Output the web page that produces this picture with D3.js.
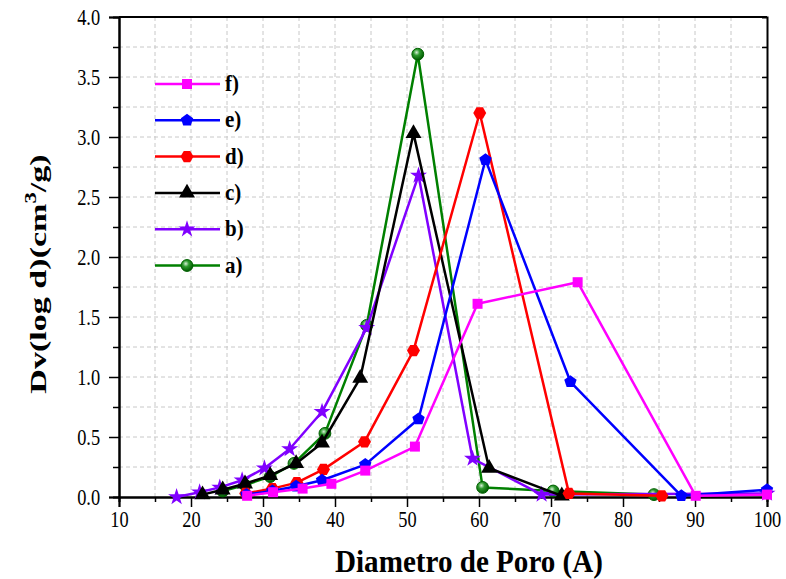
<!DOCTYPE html>
<html>
<head>
<meta charset="utf-8">
<script src="https://cdn.jsdelivr.net/npm/d3@7"></script>
<style>
  body { margin: 0; background: #fff; }
  text { font-family: "Liberation Serif", "Times New Roman", serif; }
</style>
</head>
<body>
<div id="chart"></div>
<script>
// Pore size distribution data
// ================================
var xA = [24.4, 27.5, 31.0, 34.3, 38.6, 44.4, 51.5, 60.5, 70.3, 84.3];
var yA = [0.05, 0.10, 0.17, 0.28, 0.53, 1.43, 3.69, 0.08, 0.05, 0.02];

var xB = [18.0, 21.2, 24.0, 27.1, 30.2, 33.7, 38.2, 44.4, 51.6, 59.1, 68.7, 100];
var yB = [0.00, 0.04, 0.08, 0.14, 0.24, 0.40, 0.71, 1.41, 2.68, 0.32, 0.02, 0.03];

var xC = [21.6, 24.4, 27.5, 31.0, 34.6, 38.2, 43.5, 50.9, 61.4, 71.5];
var yC = [0.02, 0.06, 0.11, 0.18, 0.28, 0.45, 0.99, 3.03, 0.24, 0.01];

var xD = [27.6, 31.3, 34.7, 38.4, 44.1, 50.9, 60.1, 72.5, 85.4];
var yD = [0.03, 0.07, 0.12, 0.23, 0.46, 1.22, 3.20, 0.03, 0.01];

var xE = [27.7, 31.3, 34.6, 38.2, 44.2, 51.6, 60.9, 72.7, 88.1, 100];
var yE = [0.02, 0.05, 0.09, 0.14, 0.27, 0.65, 2.81, 0.96, 0.01, 0.06];

var xF = [27.8, 31.4, 35.5, 39.5, 44.2, 51.1, 59.8, 73.7, 90.1, 100];
var yF = [0.01, 0.04, 0.07, 0.11, 0.22, 0.42, 1.61, 1.79, 0.01, 0.02];

var xTicks = [10, 20, 30, 40, 50, 60, 70, 80, 90, 100];
var yTicks = [0.0, 0.5, 1.0, 1.5, 2.0, 2.5, 3.0, 3.5, 4.0];

var series = [
  { name: "a)", xs: xA, ys: yA, color: "#008000", shape: "sphere" },
  { name: "b)", xs: xB, ys: yB, color: "#8000ff", shape: "star" },
  { name: "c)", xs: xC, ys: yC, color: "#000000", shape: "triangle" },
  { name: "d)", xs: xD, ys: yD, color: "#ff0000", shape: "hexagon" },
  { name: "e)", xs: xE, ys: yE, color: "#0000ff", shape: "pentagon" },
  { name: "f)", xs: xF, ys: yF, color: "#ff00ff", shape: "square" }
];

// Set up our chart
// ================================
var svgWidth = 786;
var svgHeight = 579;

var margin = { top: 17, right: 19, bottom: 82, left: 119 };
var width = svgWidth - margin.left - margin.right;
var height = svgHeight - margin.top - margin.bottom;

var serif = '"Liberation Serif", "Times New Roman", serif';

var svg = d3.select("#chart")
  .append("svg")
  .attr("width", svgWidth)
  .attr("height", svgHeight);

var defs = svg.append("defs");
var grad = defs.append("radialGradient")
  .attr("id", "sphere")
  .attr("cx", "40%").attr("cy", "35%").attr("r", "65%");
grad.append("stop").attr("offset", "0%").attr("stop-color", "#d8f0d8");
grad.append("stop").attr("offset", "40%").attr("stop-color", "#2e9a2e");
grad.append("stop").attr("offset", "100%").attr("stop-color", "#005a00");

var chartGroup = svg.append("g")
  .attr("transform", `translate(${margin.left}, ${margin.top})`);

var xScale = d3.scaleLinear().domain([10, 100]).range([0, width]);
var yScale = d3.scaleLinear().domain([0, 4]).range([height, 0]);

// Grid lines
// ================================
chartGroup.append("g")
  .selectAll("line")
  .data(d3.range(15, 100, 5))
  .enter()
  .append("line")
  .attr("x1", d => xScale(d)).attr("x2", d => xScale(d))
  .attr("y1", 0).attr("y2", height)
  .attr("stroke", "#c8c8c8")
  .attr("stroke-width", 1)
  .attr("stroke-dasharray", "4,3");

chartGroup.append("g")
  .selectAll("line")
  .data(d3.range(0.25, 4, 0.25))
  .enter()
  .append("line")
  .attr("x1", 0).attr("x2", width)
  .attr("y1", d => yScale(d)).attr("y2", d => yScale(d))
  .attr("stroke", "#c8c8c8")
  .attr("stroke-width", 1)
  .attr("stroke-dasharray", "4,3");

// Axes
// ================================
var bottomAxis = d3.axisBottom(xScale).tickValues(xTicks).tickSize(10).tickPadding(2.5).tickFormat(d3.format("d"));
var bottomMinor = d3.axisBottom(xScale).tickValues(d3.range(15, 100, 10)).tickSize(5).tickFormat("");
var leftAxis = d3.axisLeft(yScale).tickValues(yTicks).tickSize(10).tickPadding(10.5).tickFormat(d3.format(".1f"));
var leftMinor = d3.axisLeft(yScale).tickValues(d3.range(0.25, 4, 0.5)).tickSize(6).tickFormat("");
var rightAxis = d3.axisLeft(yScale).tickValues(d3.range(0.25, 4, 0.25)).tickSize(5).tickFormat("");

function styleAxis(g) {
  g.attr("font-family", serif);
  g.selectAll(".domain").attr("stroke-width", 2);
  g.selectAll(".tick line").attr("stroke-width", 1.5);
  g.selectAll("text")
    .style("font-family", serif)
    .style("font-size", "20px")
    .attr("fill", "#000")
    .attr("transform", "scale(0.92, 1.13)");
}

chartGroup.append("g").attr("transform", `translate(0, ${height})`).call(bottomMinor).call(styleAxis);
chartGroup.append("g").attr("transform", `translate(0, ${height})`).call(bottomAxis).call(styleAxis);
chartGroup.append("g").call(leftMinor).call(styleAxis);
chartGroup.append("g").call(leftAxis).call(styleAxis);
chartGroup.append("g").attr("transform", `translate(${width}, 0)`).call(rightAxis).call(styleAxis);

// top frame
chartGroup.append("line")
  .attr("x1", 0).attr("x2", width).attr("y1", 0).attr("y2", 0)
  .attr("stroke", "#000").attr("stroke-width", 2);

// Marker shapes
// ================================
function markerPath(shape) {
  if (shape === "square") return d3.symbol().type(d3.symbolSquare).size(100)();
  if (shape === "triangle") return d3.symbol().type(d3.symbolTriangle).size(110)();
  if (shape === "star") return d3.symbol().type(d3.symbolStar).size(90)();
  if (shape === "sphere") return d3.symbol().type(d3.symbolCircle).size(110)();
  var n = shape === "pentagon" ? 5 : 6;
  var r = 6.5;
  var pts = d3.range(n).map(function(i) {
    var a = -Math.PI / 2 + i * 2 * Math.PI / n + (n === 6 ? Math.PI / 6 : 0);
    return [r * Math.cos(a), r * Math.sin(a)];
  });
  return "M" + pts.join("L") + "Z";
}

// Lines and markers
// ================================
var lineGen = d3.line()
  .x(d => xScale(d[0]))
  .y(d => yScale(d[1]));

series.forEach(function(s) {
  var pts = s.xs.map((x, i) => [x, s.ys[i]]);
  chartGroup.append("path")
    .datum(pts)
    .attr("d", lineGen)
    .attr("fill", "none")
    .attr("stroke", s.color)
    .attr("stroke-width", 2.5)
    .attr("stroke-linejoin", "round");

  chartGroup.selectAll(null)
    .data(pts)
    .enter()
    .append("path")
    .attr("d", markerPath(s.shape))
    .attr("transform", d => `translate(${xScale(d[0])}, ${yScale(d[1])})`)
    .attr("fill", s.shape === "sphere" ? "url(#sphere)" : s.color)
    .attr("stroke", s.shape === "sphere" ? "#006000" : "none")
    .attr("stroke-width", 1);
});

// Legend
// ================================
var legend = svg.append("g").attr("transform", "translate(155, 84)");
var legendOrder = series.slice().reverse();
legendOrder.forEach(function(s, i) {
  var row = legend.append("g").attr("transform", `translate(0, ${i * 36.3})`);
  row.append("line")
    .attr("x1", 0).attr("x2", 65).attr("y1", 0).attr("y2", 0)
    .attr("stroke", s.color).attr("stroke-width", 2.5);
  row.append("path")
    .attr("d", markerPath(s.shape))
    .attr("transform", "translate(32, 0)")
    .attr("fill", s.shape === "sphere" ? "url(#sphere)" : s.color)
    .attr("stroke", s.shape === "sphere" ? "#006000" : "none");
  row.append("text")
    .attr("transform", "translate(70, 7) scale(1, 1.12)")
    .style("font-family", serif)
    .style("font-size", "21px")
    .style("font-weight", "bold")
    .text(s.name);
});

// Axis titles
// ================================
svg.append("text")
  .attr("transform", `translate(${margin.left + width / 2 + 26}, 572) scale(1, 1.18)`)
  .attr("text-anchor", "middle")
  .attr("textLength", 268)
  .attr("lengthAdjust", "spacingAndGlyphs")
  .style("font-family", serif)
  .style("font-size", "26px")
  .style("font-weight", "bold")
  .text("Diametro de Poro (A)");

var yTitle = svg.append("text")
  .attr("transform", `translate(46, 274) rotate(-90) scale(1.42, 1)`)
  .attr("text-anchor", "middle")
  .style("font-family", serif)
  .style("font-size", "24px")
  .style("font-weight", "bold");
yTitle.append("tspan").text("Dv(log d)(cm");
yTitle.append("tspan").attr("dy", -10).style("font-size", "16px").text("3");
yTitle.append("tspan").attr("dy", 10).text("/g)");
</script>
</body>
</html>
